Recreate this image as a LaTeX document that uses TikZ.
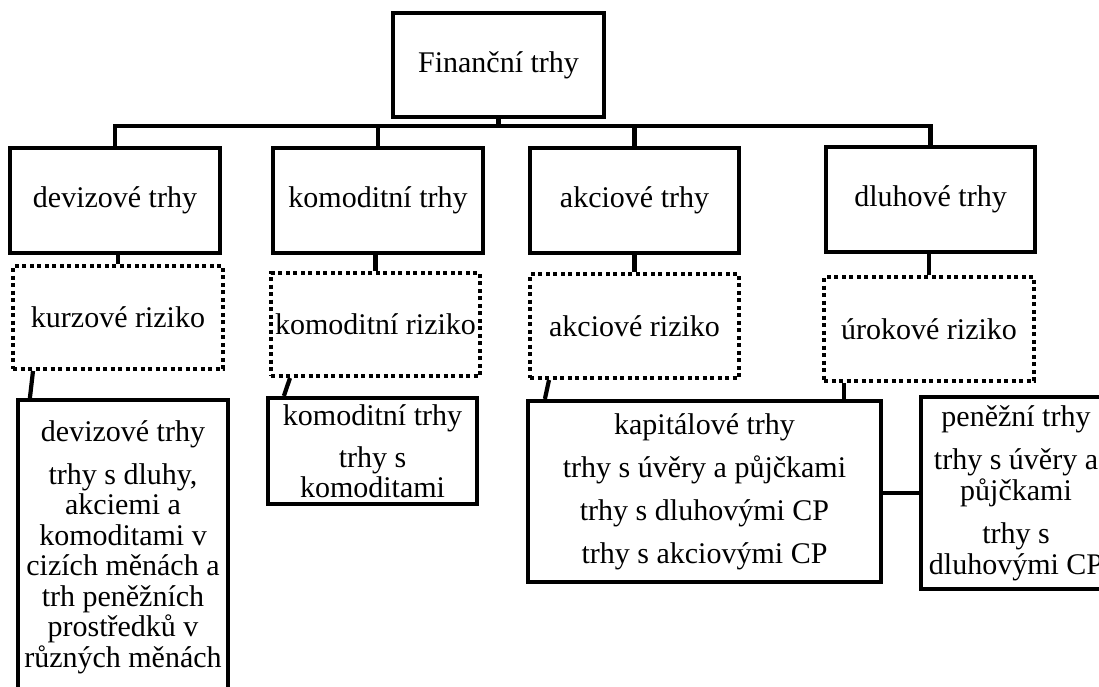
\documentclass[tikz,border=0pt]{standalone}
\usepackage{fontspec}
\setmainfont{Liberation Serif}
\usetikzlibrary{calc}
\begin{document}
\begin{tikzpicture}[x=1pt,y=-1pt,
  every node/.style={font=\fontsize{30}{30.5}\selectfont, inner sep=0pt, align=center},
  box/.style 2 args={draw, line width=4.2pt, minimum width=#1, minimum height=#2},
  dbox/.style 2 args={draw, line width=4pt, dash pattern=on 4pt off 3.5pt, minimum width=#1, minimum height=#2},
  conn/.style={draw, line width=4.2pt}]
\useasboundingbox (0,0) rectangle (1099,687);
\coordinate (bus) at (0,126);
% level 1
\node[box={211}{104}] (fin) at (498.5,65) {Finanční trhy};
% level 2
\node[box={210}{105}] (dev) at (115,200.5) {devizové trhy};
\node[box={210}{105}] (kom) at (378,200.5) {komoditní trhy};
\node[box={209}{105}] (akc) at (634.5,200.5) {akciové trhy};
\node[box={209}{105}] (dlu) at (930.5,199.5) {dluhové trhy};
% level 3
\node[dbox={210}{103}] (kur) at (118,317.5) {kurzové riziko};
\node[dbox={209}{103}] (kri) at (375.5,324.5) {komoditní riziko};
\node[dbox={209}{104}] (ari) at (634.5,326) {akciové riziko};
\node[dbox={210}{104}] (uri) at (929,329) {úrokové riziko};
% level 4
\node[box={210}{294}, anchor=north] (dev4) at (123,398) {devizové trhy\\[12.5pt] trhy s dluhy,\\ akciemi a\\ komoditami v\\ cizích měnách a\\ trh peněžních\\ prostředků v\\ různých měnách};
\node[box={209}{106}] (kom4) at (372.5,451) {komoditní trhy\\[11.5pt] trhy s\\ komoditami};
\node[box={353}{181}] (kap) at (704.5,491.5) {kapitálové trhy\\[12.5pt] trhy s úvěry a půjčkami\\[12.5pt] trhy s dluhovými CP\\[12.5pt] trhy s akciovými CP};
\node[box={190}{192}] (pen) at (1016,493) {peněžní trhy\\[13pt] trhy s úvěry a\\ půjčkami\\[13pt] trhy s\\ dluhovými CP};
% connectors level 1 -> 2
\draw[conn] (fin.south) -- (fin.south |- bus);
\draw[conn] (dev.north) -- (dev.north |- bus) -- (dlu.north |- bus) -- (dlu.north);
\draw[conn] (kom.north) -- (kom.north |- bus);
\draw[conn] (akc.north) -- (akc.north |- bus);
% connectors level 2 -> 3
\draw[conn] (kur.north) -- (kur.north |- dev.south);
\draw[conn] (kri.north) -- (kri.north |- kom.south);
\draw[conn] (ari.north) -- (ari.north |- akc.south);
\draw[conn] (uri.north) -- (uri.north |- dlu.south);
% connectors level 3 -> 4
\draw[conn] ($(kur.south west)+(22,0)$) -- ($(dev4.north west)+(14,0)$);
\draw[conn] ($(kri.south west)+(21,0)$) -- ($(kom4.north west)+(18,0)$);
\draw[conn] ($(ari.south west)+(21,0)$) -- ($(kap.north west)+(19,0)$);
\draw[conn] ($(uri.south west)+(22,0)$) coordinate (ur) -- (ur |- kap.north);
\draw[conn] (pen.west) -- (pen.west -| kap.east);
\end{tikzpicture}
\end{document}
